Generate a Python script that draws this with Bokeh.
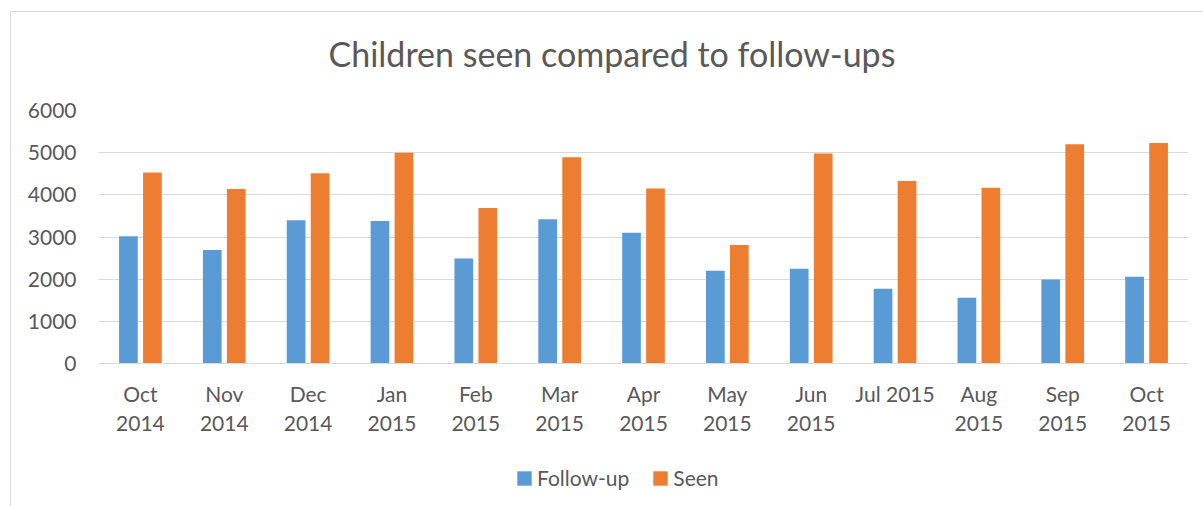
from bokeh.plotting import figure
from bokeh.layouts import column
from bokeh.models import ColumnDataSource, FactorRange, Range1d, Legend, LegendItem, FixedTicker, Title
from bokeh.transform import dodge
from bokeh.embed import file_html
from bokeh.resources import INLINE

months = ["Oct\n2014", "Nov\n2014", "Dec\n2014", "Jan\n2015", "Feb\n2015", "Mar\n2015",
          "Apr\n2015", "May\n2015", "Jun\n2015", "Jul 2015", "Aug\n2015", "Sep\n2015", "Oct\n2015"]
follow_up = [3020, 2690, 3400, 3380, 2490, 3420, 3100, 2200, 2250, 1770, 1560, 1990, 2060]
seen = [4530, 4140, 4510, 5000, 3690, 4890, 4150, 2810, 4980, 4330, 4170, 5200, 5230]
y_ticks = [0, 1000, 2000, 3000, 4000, 5000, 6000]
series_names = ["Follow-up", "Seen"]
title_text = "Children seen compared to follow-ups"

FONT = "Lato"
TEXT = "#595959"
GRID = "#D9D9D9"
BLUE = "#5B9BD5"
ORANGE = "#ED7D31"

src = ColumnDataSource(dict(month=months, follow=follow_up, seen=seen))

p = figure(
    frame_width=1089, frame_height=252,
    x_range=FactorRange(factors=months, range_padding=0),
    y_range=Range1d(0, 6000),
    output_backend="svg", toolbar_location=None,
    min_border_left=87, min_border_right=16, min_border_top=98, min_border_bottom=93,
    outline_line_color=None,
)
p.styles = {"margin-left": "10px", "margin-top": "11px",
            "border-left": f"1px solid {GRID}", "border-top": f"1px solid {GRID}"}

r1 = p.vbar(x=dodge("month", -0.143, range=p.x_range), top="follow", width=0.223,
            source=src, fill_color=BLUE, line_color=None)
r2 = p.vbar(x=dodge("month", 0.143, range=p.x_range), top="seen", width=0.223,
            source=src, fill_color=ORANGE, line_color=None)

# empty spacer between title and plot area
p.add_layout(Title(text=" ", text_font_size="2px", standoff=33), "above")

p.title.text = title_text
p.title.align = "left"
p.title.offset = 230
p.title.text_font = FONT
p.title.text_font_size = "34px"
p.title.text_font_style = "normal"
p.title.text_color = TEXT
p.title.standoff = 0

p.xgrid.grid_line_color = None
p.ygrid.grid_line_color = GRID
p.ygrid.grid_line_width = 1

p.yaxis.ticker = FixedTicker(ticks=y_ticks)
p.yaxis.axis_line_color = None
p.yaxis.major_tick_line_color = None
p.yaxis.minor_tick_line_color = None
p.yaxis.major_tick_out = 0
p.yaxis.major_tick_in = 0
p.yaxis.major_label_standoff = 22
p.yaxis.major_label_text_font = FONT
p.yaxis.major_label_text_font_size = "21px"
p.yaxis.major_label_text_color = TEXT

p.xaxis.axis_line_color = GRID
p.xaxis.axis_line_width = 1
p.xaxis.major_tick_line_color = None
p.xaxis.minor_tick_line_color = None
p.xaxis.major_tick_out = 0
p.xaxis.major_tick_in = 0
p.xaxis.major_label_standoff = 17
p.xaxis.major_label_text_font = FONT
p.xaxis.major_label_text_font_size = "21px"
p.xaxis.major_label_text_color = TEXT
p.xaxis.major_label_text_line_height = 1.18

# legend strip below the chart (its bars lie outside its visible range)
p2 = figure(
    width=1192, height=51,
    x_range=FactorRange(factors=months, range_padding=0),
    y_range=Range1d(10000, 20000),
    output_backend="svg", toolbar_location=None,
    min_border=0, outline_line_color=None,
)
p2.styles = {"margin-left": "10px", "border-left": f"1px solid {GRID}"}
p2.axis.visible = False
p2.grid.visible = False
l1 = p2.vbar(x="month", top="follow", width=0.2, source=src, fill_color=BLUE, line_color=None)
l2 = p2.vbar(x="month", top="seen", width=0.2, source=src, fill_color=ORANGE, line_color=None)

legend = Legend(
    items=[LegendItem(label=series_names[0], renderers=[l1]),
           LegendItem(label=series_names[1], renderers=[l2])],
    orientation="horizontal", location=(417, 16),
    glyph_width=18, glyph_height=18, label_standoff=4, spacing=22,
    padding=0, margin=0,
    label_text_font=FONT, label_text_font_size="21px", label_text_color=TEXT,
    border_line_color=None, background_fill_alpha=0,
)
p2.add_layout(legend, "center")

layout = column(p, p2, spacing=0)
open("out.html", "w").write(file_html(layout, INLINE))
